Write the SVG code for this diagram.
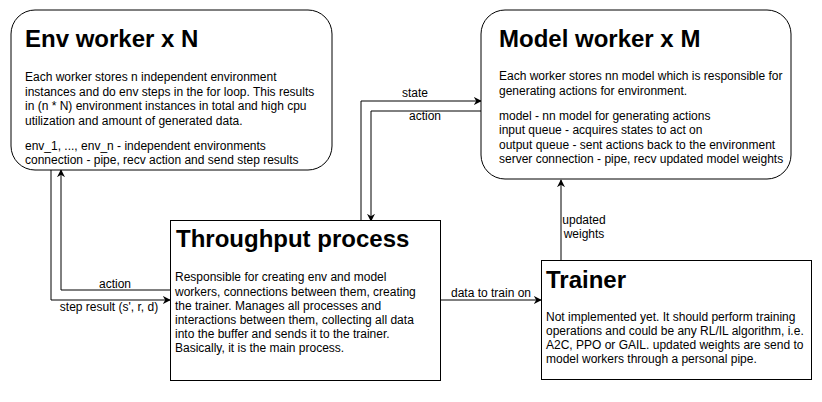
<svg xmlns="http://www.w3.org/2000/svg" width="822" height="402" viewBox="0 0 822 402">
<style>
.box{fill:#fff;stroke:#000;stroke-width:1}
.t{font-family:"Liberation Sans",Arial,Helvetica,sans-serif;font-size:24px;font-weight:bold;fill:#000}
.b{font-family:"Liberation Sans",Arial,Helvetica,sans-serif;font-size:12px;fill:#000}
.l{font-family:"Liberation Sans",Arial,Helvetica,sans-serif;font-size:12px;fill:#000;text-anchor:middle}
.e{fill:none;stroke:#000;stroke-width:1}
</style>
<defs>
<marker id="arr" viewBox="0 0 10 10" refX="9" refY="5" markerWidth="8" markerHeight="8" markerUnits="userSpaceOnUse" orient="auto">
<path d="M0,0 L10,5 L0,10 L3,5 z" fill="#000"/>
</marker>
</defs>
<rect width="822" height="402" fill="#fff"/>
<g id="connectors">
<path class="e" d="M51,170 V300 H170" marker-end="url(#arr)"/>
<path class="e" d="M170,290 H61 V170" marker-end="url(#arr)"/>
<path class="e" d="M361,221 V101 H481" marker-end="url(#arr)"/>
<path class="e" d="M481,111 H371 V221" marker-end="url(#arr)"/>
<path class="e" d="M440,300 H541" marker-end="url(#arr)"/>
<path class="e" d="M561,261 V180" marker-end="url(#arr)"/>
<text class="l" x="115" y="288">action</text>
<text class="l" x="109" y="311">step result (s', r, d)</text>
<text class="l" x="415" y="97">state</text>
<text class="l" x="425" y="120">action</text>
<text class="l" x="491" y="297">data to train on</text>
<text class="l" x="584" y="224">updated</text>
<text class="l" x="584" y="238">weights</text>
</g>
<g id="env-worker">
<rect class="box" x="11" y="10" width="321" height="160" rx="24" ry="24"/>
<text class="t" x="25" y="47">Env worker x N</text>
<text class="b" x="25" y="81">Each worker stores n independent environment</text>
<text class="b" x="25" y="96">instances and do env steps in the for loop. This results</text>
<text class="b" x="25" y="110">in (n * N) environment instances in total and high cpu</text>
<text class="b" x="25" y="125">utilization and amount of generated data.</text>
<text class="b" x="25" y="150">env_1, ..., env_n - independent environments</text>
<text class="b" x="25" y="164">connection - pipe, recv action and send step results</text>
</g>
<g id="model-worker">
<rect class="box" x="481" y="10" width="310" height="169" rx="24" ry="24"/>
<text class="t" x="499" y="47">Model worker x M</text>
<text class="b" x="499" y="80">Each worker stores nn model which is responsible for</text>
<text class="b" x="499" y="95">generating actions for environment.</text>
<text class="b" x="499" y="120">model - nn model for generating actions</text>
<text class="b" x="499" y="134">input queue - acquires states to act on</text>
<text class="b" x="499" y="149">output queue - sent actions back to the environment</text>
<text class="b" x="499" y="163">server connection - pipe, recv updated model weights</text>
</g>
<g id="throughput">
<rect class="box" x="170.5" y="220.5" width="270" height="160"/>
<text class="t" x="176" y="247">Throughput process</text>
<text class="b" x="175" y="281">Responsible for creating env and model</text>
<text class="b" x="175" y="296">workers, connections between them, creating</text>
<text class="b" x="175" y="310">the trainer. Manages all processes and</text>
<text class="b" x="175" y="324">interactions between them, collecting all data</text>
<text class="b" x="175" y="338">into the buffer and sends it to the trainer.</text>
<text class="b" x="175" y="352">Basically, it is the main process.</text>
</g>
<g id="trainer">
<rect class="box" x="541.5" y="260.5" width="270" height="119"/>
<text class="t" x="546" y="288">Trainer</text>
<text class="b" x="546" y="321">Not implemented yet. It should perform training</text>
<text class="b" x="546" y="335">operations and could be any RL/IL algorithm, i.e.</text>
<text class="b" x="546" y="349">A2C, PPO or GAIL. updated weights are send to</text>
<text class="b" x="546" y="363">model workers through a personal pipe.</text>
</g>
</svg>
